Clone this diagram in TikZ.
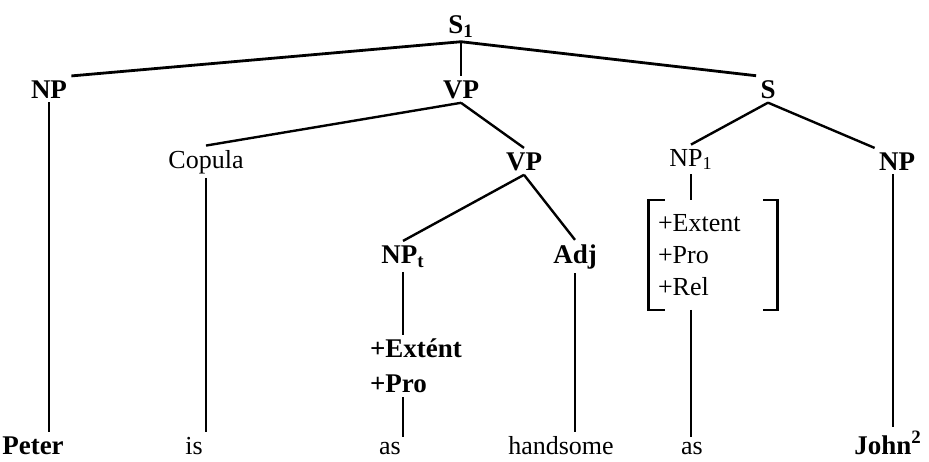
\documentclass[tikz,border=0pt]{standalone}
\usepackage{fontspec}
\setmainfont{Liberation Serif}

\begin{document}
\begin{tikzpicture}[x=0.5pt, y=-0.5pt, inner sep=2pt, anchor=base,
  font=\fontsize{13.5}{17.5}\selectfont\bfseries,
  light/.style={font=\fontsize{13}{16}\selectfont},
  branch/.style={line width=1.2pt}]

\useasboundingbox (0,0) rectangle (929,461);

\node (s1) at (461,33) {S\textsubscript{1}};
\node (np) at (49,98) {NP};
\node (vp) at (461,98) {VP};
\node (s) at (768,98) {S};

\node[light] (cop) at (206,168) {Copula};
\node (vp2) at (524,170) {VP};
\node[light] (np1) at (691,166) {NP\textsubscript{1}};
\node (npr) at (897,170) {NP};

\node (npt) at (403,263) {NP\textsubscript{t}};
\node (adj) at (575,263) {Adj};

\node[align=left, anchor=center] (feata) at (416,366) {+Extént\\+Pro};
\node[light, anchor=center, align=left, minimum width=64pt, minimum height=54.5pt,
  text width=55pt, inner xsep=4.5pt] (featb) at (713,255) {+Extent\\+Pro\\+Rel};

\node (peter) at (33,454) {Peter};
\node[light] (is) at (194,454) {is};
\node[light] (as1) at (390,454) {as};
\node[light] (hand) at (561,454) {handsome};
\node[light] (as2) at (692,454) {as};
\node (john) at (888,454) {John\textsuperscript{2}};

% bracket round the features of NP1
\draw[branch] ([xshift=8pt]featb.north west) -- (featb.north west) -- (featb.south west) -- ([xshift=8pt]featb.south west);
\draw[branch] ([xshift=-7pt]featb.north east) -- (featb.north east) -- (featb.south east) -- ([xshift=-7pt]featb.south east);

\draw[branch, line width=1.4pt] (s1.south) -- (np.north east);
\draw[branch, line width=1.4pt] (s1.south) -- (vp.north);
\draw[branch, line width=1.4pt] (s1.south) -- (s.north west);
\draw[branch] (vp.south) -- (cop.north);
\draw[branch] (vp.south) -- (vp2.north);
\draw[branch] (s.south) -- (np1.north);
\draw[branch] (s.south) -- (npr.north west);
\draw[branch] (vp2.south) -- (npt.north);
\draw[branch] (vp2.south) -- (adj.north);

\draw[branch] (np.south) -- (np.south |- peter.north);
\draw[branch] (cop.south) -- (cop.south |- is.north);
\draw[branch] (npt.south) -- (npt.south |- feata.north);
\draw[branch] (npt.south |- feata.south) -- (npt.south |- as1.north);
\draw[branch] (adj.south) -- (adj.south |- hand.north);
\draw[branch] (np1.south) -- (np1.south |- featb.north);
\draw[branch] (np1.south |- featb.south) -- (np1.south |- as2.north);
\draw[branch] ([xshift=-2pt]npr.south) -- ([xshift=-2pt]npr.south |- john.north);

\end{tikzpicture}
\end{document}
